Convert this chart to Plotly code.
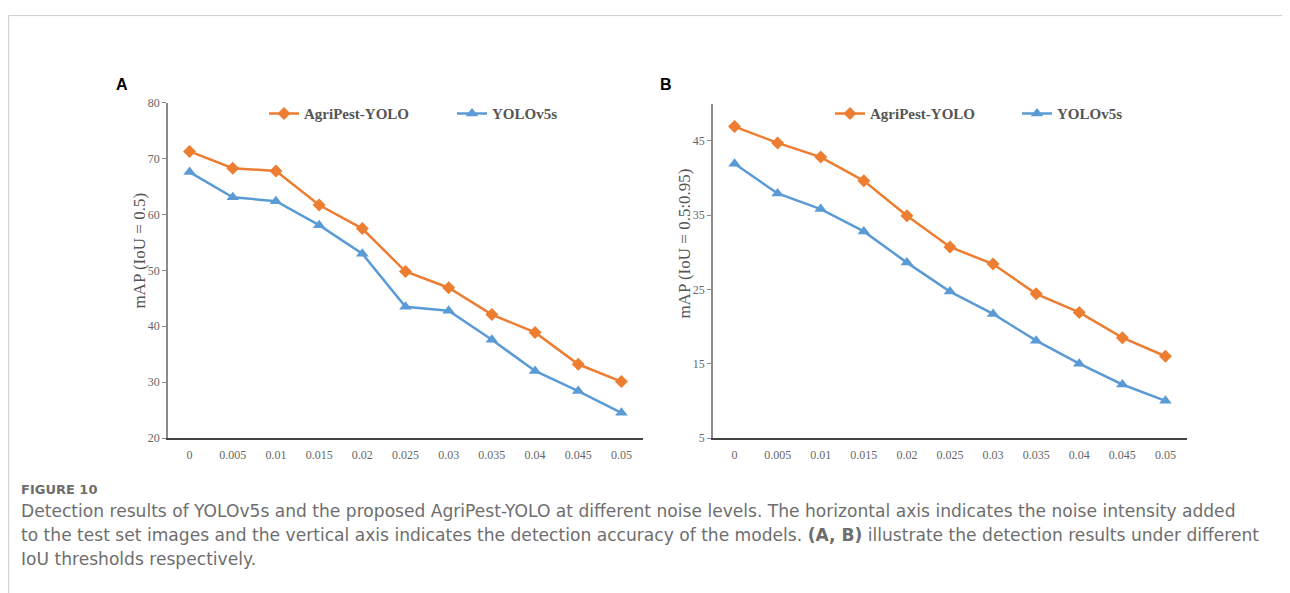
import plotly.graph_objects as go

W, H = 1290, 593
OFFX = 8                  # page body margin offset (horizontal)
OFFY, SCALEY = 13, 0.978  # observed vertical placement of the figure in the page photo

noise_levels = ["0", "0.005", "0.01", "0.015", "0.02", "0.025", "0.03", "0.035", "0.04", "0.045", "0.05"]

a_agripest = [71.3, 68.3, 67.8, 61.7, 57.5, 49.8, 46.9, 42.1, 38.9, 33.2, 30.1]
a_yolov5s = [67.6, 63.1, 62.4, 58.1, 53.0, 43.5, 42.8, 37.6, 32.0, 28.4, 24.5]

b_agripest = [46.9, 44.7, 42.8, 39.6, 34.9, 30.7, 28.4, 24.4, 21.9, 18.5, 16.0]
b_yolov5s = [41.9, 37.9, 35.8, 32.8, 28.6, 24.7, 21.7, 18.1, 15.0, 12.2, 10.0]

a_ticks = [20, 30, 40, 50, 60, 70, 80]
b_ticks = [5, 15, 25, 35, 45]

series_names = ["AgriPest-YOLO", "YOLOv5s"]

ORANGE = "#ED7D31"
BLUE = "#5B9BD5"
SERIF = "Liberation Serif"


def px(x):
    return max(0.0, (x - OFFX) / W)


def py(y):
    return min(1.0, 1 - ((y - OFFY) / SCALEY) / H)


fig = go.Figure()

fig.add_trace(go.Scatter(x=noise_levels, y=a_agripest, name=series_names[0], mode="lines+markers",
                         line=dict(color=ORANGE, width=2.5), marker=dict(symbol="diamond", size=10, color=ORANGE),
                         xaxis="x", yaxis="y", legend="legend"))
fig.add_trace(go.Scatter(x=noise_levels, y=a_yolov5s, name=series_names[1], mode="lines+markers",
                         line=dict(color=BLUE, width=2.5), marker=dict(symbol="triangle-up", size=11, color=BLUE),
                         xaxis="x", yaxis="y", legend="legend2"))
fig.add_trace(go.Scatter(x=noise_levels, y=b_agripest, name=series_names[0], mode="lines+markers",
                         line=dict(color=ORANGE, width=2.5), marker=dict(symbol="diamond", size=10, color=ORANGE),
                         xaxis="x2", yaxis="y2", legend="legend3"))
fig.add_trace(go.Scatter(x=noise_levels, y=b_yolov5s, name=series_names[1], mode="lines+markers",
                         line=dict(color=BLUE, width=2.5), marker=dict(symbol="triangle-up", size=11, color=BLUE),
                         xaxis="x2", yaxis="y2", legend="legend4"))

tickfont = dict(family=SERIF, size=12, color="#666666")

xcommon = dict(type="category", range=[-0.5, 10.5], showgrid=False, zeroline=False,
               showline=True, linecolor="#444444", linewidth=2, ticks="", tickfont=tickfont,
               ticklabelstandoff=5, fixedrange=True)
ycommon = dict(showgrid=False, zeroline=False, showline=True, linecolor="#8a8a8a", linewidth=1.5,
               ticks="outside", ticklen=4, tickcolor="#8a8a8a", tickwidth=1, tickfont=tickfont,
               fixedrange=True)

fig.update_layout(
    width=W, height=H,
    margin=dict(l=0, r=0, t=0, b=0),
    paper_bgcolor="white", plot_bgcolor="white",
    xaxis=dict(domain=[px(168), px(643)], anchor="y", **xcommon),
    yaxis=dict(domain=[py(436.7), py(101)], anchor="x", range=[20, 80], tickvals=a_ticks, **ycommon),
    xaxis2=dict(domain=[px(713), px(1187)], anchor="y2", **xcommon),
    yaxis2=dict(domain=[py(436.7), py(101.7)], anchor="x2", range=[5, 50], tickvals=b_ticks, **ycommon),
    showlegend=True,
)

legfont = dict(family=SERIF, size=15, color="#555555", weight="bold")
legend_pos = {"legend": 264, "legend2": 452, "legend3": 830, "legend4": 1017}
for key, xpos in legend_pos.items():
    fig.layout[key] = dict(x=px(xpos), y=py(112), xanchor="left", yanchor="middle",
                           orientation="h", font=legfont, bgcolor="rgba(0,0,0,0)",
                           borderwidth=0, itemwidth=30)

annotations = [
    dict(text="<b>A</b>", x=px(122), y=py(83), font=dict(family="Liberation Sans", size=16, color="#000000")),
    dict(text="<b>B</b>", x=px(666), y=py(83), font=dict(family="Liberation Sans", size=16, color="#000000")),
    dict(text="mAP (IoU = 0.5)", x=px(140), y=py(249), textangle=-90,
         font=dict(family=SERIF, size=17, color="#555555")),
    dict(text="mAP (IoU = 0.5:0.95)", x=px(685), y=py(242), textangle=-90,
         font=dict(family=SERIF, size=17, color="#555555")),
]
for a in annotations:
    a.update(xref="paper", yref="paper", showarrow=False, xanchor="center", yanchor="middle")
    fig.add_annotation(**a)

caption_font = dict(family="DejaVu Sans", size=17.1, color="#6e6e6e")
fig.add_annotation(text="FIGURE 10", x=px(19), y=py(488), xref="paper", yref="paper", showarrow=False,
                   xanchor="left", yanchor="middle",
                   font=dict(family="DejaVu Sans", size=13, color="#6e6e6e", weight="bold"))
caption_lines = [
    "Detection results of YOLOv5s and the proposed AgriPest-YOLO at different noise levels. The horizontal axis indicates the noise intensity added",
    "to the test set images and the vertical axis indicates the detection accuracy of the models. <b>(A, B)</b> illustrate the detection results under different",
    "IoU thresholds respectively.",
]
for i, line in enumerate(caption_lines):
    fig.add_annotation(text=line, x=px(19), y=py(510 + 24 * i), xref="paper", yref="paper", showarrow=False,
                       xanchor="left", yanchor="middle", font=caption_font)

fig.add_shape(type="line", xref="paper", yref="paper", x0=0.0005, x1=1, y0=0.999, y1=0.999,
              line=dict(color="#cccccc", width=1))
fig.add_shape(type="line", xref="paper", yref="paper", x0=0.0005, x1=0.0005, y0=0.999, y1=0,
              line=dict(color="#cccccc", width=1))

fig.write_html("out.html")
